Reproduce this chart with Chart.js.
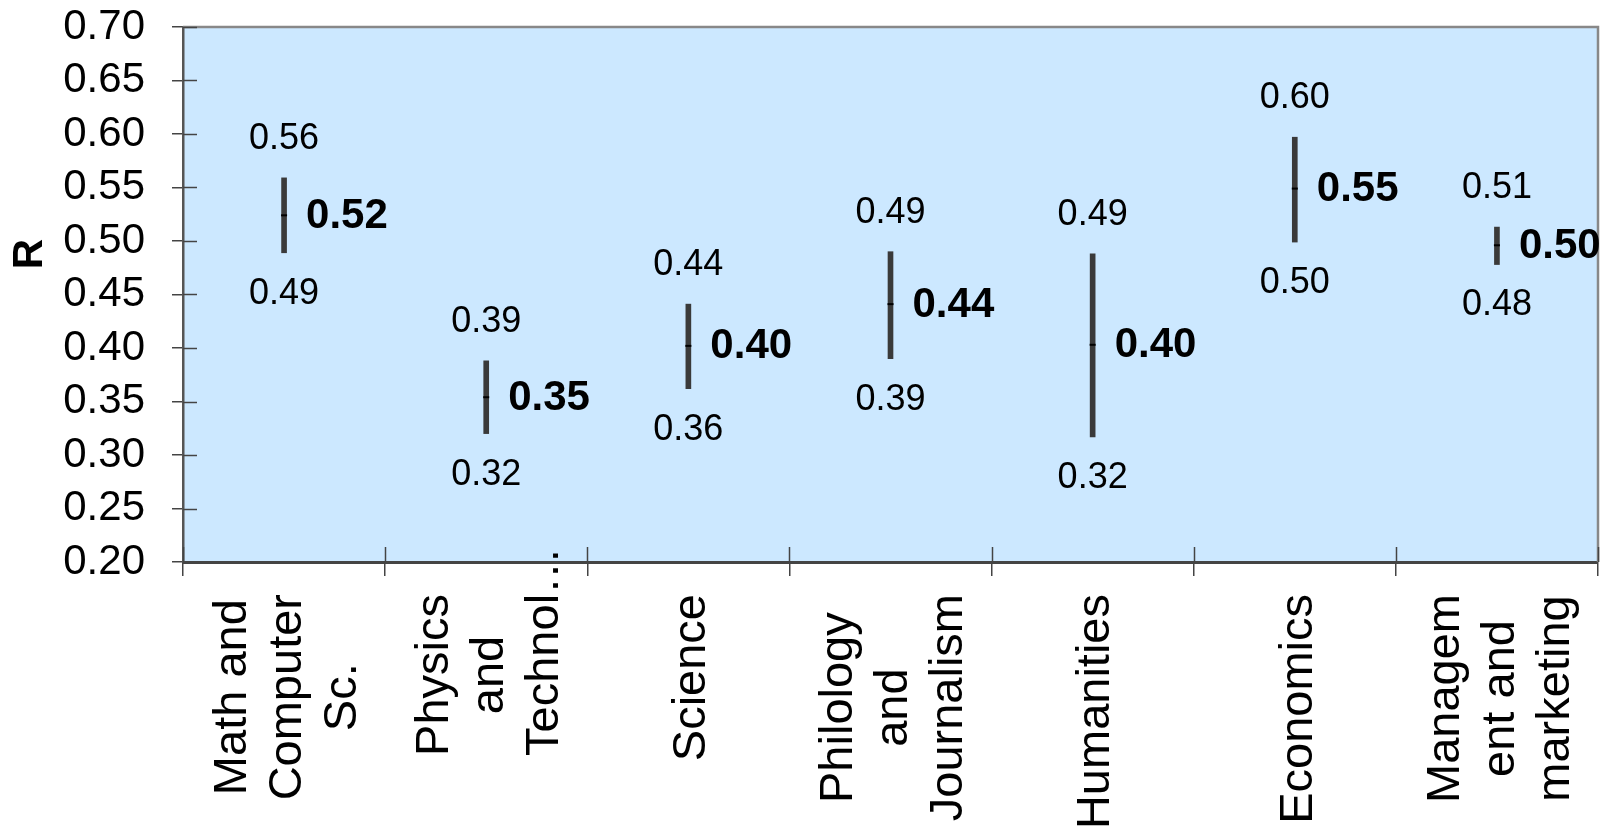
<!DOCTYPE html>
<html><head><meta charset="utf-8">
<script src="https://cdn.jsdelivr.net/npm/chart.js@4.4.1/dist/chart.umd.min.js"></script>
<style>html,body{margin:0;padding:0;background:#fff;overflow:hidden}canvas{display:block}</style>
</head><body>
<canvas id="c" width="1606" height="835"></canvas>
<script>
// ---- data ----
const categories = [
  ["Math and", "Computer", "Sc."],
  ["Physics", "and", "Technol…"],
  ["Science"],
  ["Philology", "and", "Journalism"],
  ["Humanities"],
  ["Economics"],
  ["Managem", "ent and", "marketing"]
];
const highValues = [0.559, 0.388, 0.441, 0.490, 0.488, 0.597, 0.513];
const lowValues  = [0.489, 0.320, 0.362, 0.390, 0.317, 0.499, 0.478];
const meanValues = [0.524, 0.354, 0.402, 0.441, 0.403, 0.549, 0.496];
const yTicks = [0.20, 0.25, 0.30, 0.35, 0.40, 0.45, 0.50, 0.55, 0.60, 0.65, 0.70];
const yTitle = "R";

const FONT = "'Liberation Sans', Arial, sans-serif";

const decor = {
  id: 'decor',
  beforeDraw(chart) {
    const {ctx, chartArea: a} = chart;
    ctx.save();
    ctx.fillStyle = '#CCE8FF';
    ctx.fillRect(a.left, a.top, a.right - a.left, a.bottom - a.top);
    ctx.restore();
  },
  afterDraw(chart) {
    const {ctx, chartArea: a} = chart;
    const xs = chart.scales.x, ys = chart.scales.y;
    ctx.save();
    // top & right frame
    ctx.strokeStyle = '#888';
    ctx.lineWidth = 2.5;
    ctx.beginPath();
    ctx.moveTo(a.left, a.top); ctx.lineTo(a.right, a.top); ctx.lineTo(a.right, a.bottom);
    ctx.stroke();
    // inner parts of tick marks
    ctx.strokeStyle = '#444';
    ctx.lineWidth = 1.5;
    ys.ticks.forEach((t, i) => {
      const y = Math.round(ys.getPixelForTick(i)) + 0.5;
      ctx.beginPath(); ctx.moveTo(a.left, y); ctx.lineTo(a.left + 14, y); ctx.stroke();
    });
    for (let i = 0; i <= categories.length; i++) {
      const x = Math.round(xs.getPixelForValue(i - 0.5)) + 0.5;
      ctx.beginPath(); ctx.moveTo(x, a.bottom - 15); ctx.lineTo(x, a.bottom); ctx.stroke();
    }
    // data labels
    ctx.fillStyle = '#000';
    ctx.textBaseline = 'middle';
    for (let i = 0; i < categories.length; i++) {
      const x = xs.getPixelForValue(i);
      ctx.font = `36px ${FONT}`;
      ctx.textAlign = 'center';
      ctx.fillText(highValues[i].toFixed(2), x, ys.getPixelForValue(highValues[i]) - 39);
      ctx.fillText(lowValues[i].toFixed(2), x, ys.getPixelForValue(lowValues[i]) + 41);
      ctx.font = `bold 42px ${FONT}`;
      ctx.textAlign = 'left';
      ctx.fillText(meanValues[i].toFixed(2), x + 22, ys.getPixelForValue(meanValues[i]) + 1);
    }
    // category labels (rotated, centred lines)
    const fs = 47, lh = 55;
    ctx.font = `${fs}px ${FONT}`;
    ctx.textBaseline = 'alphabetic';
    categories.forEach((lines, i) => {
      const cx = xs.getPixelForValue(i);
      let maxW = 0;
      lines.forEach(l => { if (!l.endsWith('…')) maxW = Math.max(maxW, ctx.measureText(l).width); });
      const along = a.bottom + 32 + maxW / 2;
      ctx.save();
      ctx.translate(cx, along);
      ctx.rotate(-Math.PI / 2);
      lines.forEach((l, j) => {
        const by = (j - (lines.length - 1) / 2) * lh + 0.358 * fs;
        if (l.endsWith('…')) { ctx.textAlign = 'left'; ctx.fillText(l, -maxW / 2, by); }
        else { ctx.textAlign = 'center'; ctx.fillText(l, 0, by); }
      });
      ctx.restore();
    });
    // y axis title
    ctx.save();
    ctx.translate(30, 254);
    ctx.rotate(-Math.PI / 2);
    ctx.font = `bold 42px ${FONT}`;
    ctx.textAlign = 'center';
    ctx.textBaseline = 'middle';
    ctx.fillText(yTitle, 0, 0);
    ctx.restore();
    ctx.restore();
  }
};

new Chart(document.getElementById('c'), {
  type: 'bar',
  data: {
    labels: categories,
    datasets: [
      {
        type: 'line',
        label: 'Mean',
        data: meanValues,
        showLine: false,
        pointStyle: 'line',
        pointRadius: 3,
        pointHoverRadius: 3,
        borderColor: '#000',
        borderWidth: 2
      },
      {
        label: 'Range',
        data: lowValues.map((v, i) => [v, highValues[i]]),
        backgroundColor: '#3a3a3a',
        borderWidth: 0,
        barThickness: 5
      }
    ]
  },
  options: {
    responsive: false,
    animation: false,
    devicePixelRatio: 1,
    layout: { padding: { left: 0, right: 8, top: 27, bottom: 0 } },
    plugins: { legend: { display: false }, tooltip: { enabled: false } },
    scales: {
      x: {
        type: 'category',
        offset: true,
        grid: { offset: true, drawOnChartArea: false, drawTicks: true, tickLength: 14, color: '#444', lineWidth: 1.5 },
        border: { color: '#444', width: 3 },
        ticks: { display: false },
        afterFit(s) { s.height = 273; s.paddingLeft = 0; s.paddingRight = 0; }
      },
      y: {
        min: 0.20, max: 0.70,
        grid: { drawOnChartArea: false, drawTicks: true, tickLength: 11, color: '#444', lineWidth: 1.5 },
        border: { color: '#555', width: 2.5 },
        afterBuildTicks(s) { s.ticks = yTicks.map(v => ({ value: v })); },
        ticks: {
          color: '#000',
          padding: 27,
          autoSkip: false,
          font: { family: FONT, size: 42 },
          callback: v => Number(v).toFixed(2)
        },
        afterFit(s) { s.width = 183; s.paddingTop = 0; s.paddingBottom = 0; }
      }
    }
  },
  plugins: [decor]
});
</script>
</body></html>
